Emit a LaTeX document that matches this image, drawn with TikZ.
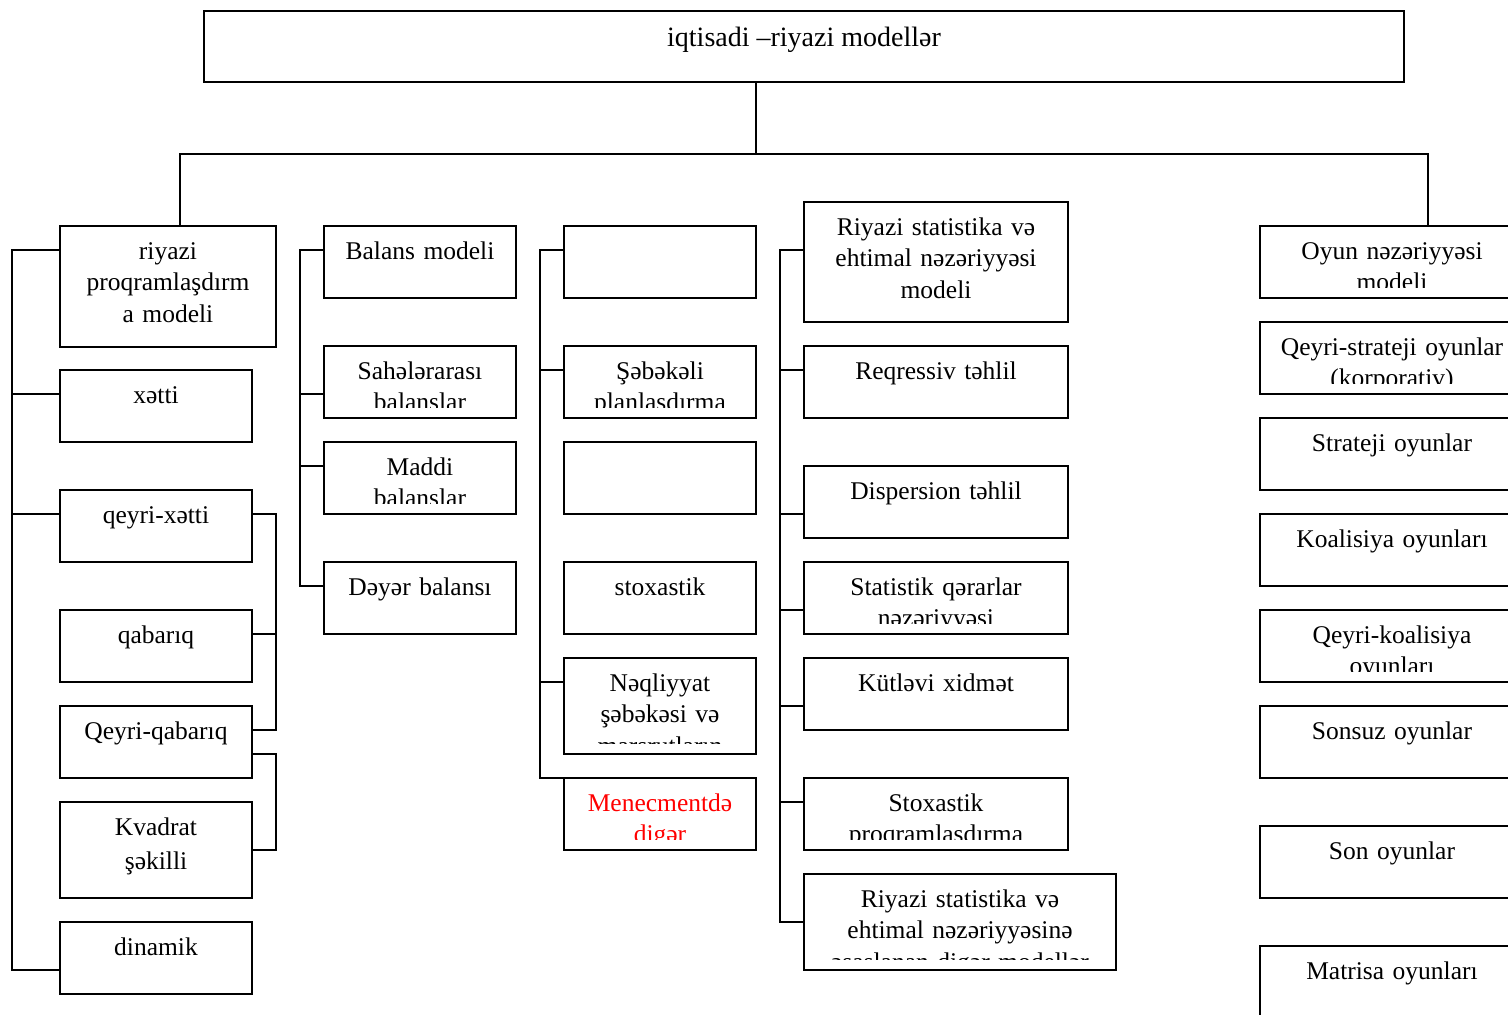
\documentclass[tikz,border=0pt]{standalone}
\usepackage{fontspec}
\setmainfont{Liberation Serif}
\usetikzlibrary{calc}
\tikzset{
  boxst/.style={draw, line width=1.8pt, inner sep=0pt, outer sep=0pt},
  txt/.style={font=\fontsize{25.5}{31.5}\selectfont, inner sep=0pt, align=center},
  conn/.style={line width=1.8pt},
  thinconn/.style={line width=1.3pt},
  redtxt/.style={text=red}
}
% #1 text style, #2 name, #3 x1, #4 y1, #5 x2, #6 y2, #7 text
\newcommand\bx[7][]{%
  \pgfmathsetmacro\bw{#5-#3}%
  \pgfmathsetmacro\bh{#6-#4}%
  \pgfmathsetmacro\cx{(#3+#5)/2}%
  \pgfmathsetmacro\by{#4+33}%
  \node[boxst, minimum width=\bw pt, minimum height=\bh pt, anchor=north west] (#2) at (#3,#4) {};
  \begin{scope}
    \clip (#3+2,#4+2) rectangle (#5-2,#6-10.5);
    \node[txt, text width=\bw pt, anchor=base, #1] (#2-t) at (\cx,\by) {#7};
  \end{scope}}
\begin{document}
\begin{tikzpicture}[x=1pt,y=-1pt]
\clip (0,0) rectangle (1508,1015);
\fill[white] (0,0) rectangle (1508,1015);

% top box
\node[boxst, minimum width=1200pt, minimum height=71pt, anchor=north west] (top) at (204,11) {};
\node[inner sep=0pt, anchor=base, font=\fontsize{28}{32}\selectfont] (top-t) at (804,46) {iqtisadi –riyazi modellər};

% column 1
\bx{riy}{60}{226}{276}{347}{riyazi\\proqramlaşdırm\\a modeli}
\bx{xet}{60}{370}{252}{442}{xətti}
\bx{qx}{60}{490}{252}{562}{qeyri-xətti}
\bx{qb}{60}{610}{252}{682}{qabarıq}
\bx{qq}{60}{706}{252}{778}{Qeyri-qabarıq}
\bx{kv}{60}{802}{252}{898}{Kvadrat\\[3pt]şəkilli}
\bx{din}{60}{922}{252}{994}{dinamik}

% column 2
\bx{bal}{324}{226}{516}{298}{Balans modeli}
\bx{sah}{324}{346}{516}{418}{Sahələrarası\\balanslar}
\bx{mad}{324}{442}{516}{514}{Maddi\\balanslar}
\bx{dey}{324}{562}{516}{634}{Dəyər balansı}

% column 3
\bx{ea}{564}{226}{756}{298}{}
\bx{seb}{564}{346}{756}{418}{Şəbəkəli\\planlaşdırma}
\bx{eb}{564}{442}{756}{514}{}
\bx{sto}{564}{562}{756}{634}{stoxastik}
\bx{nq}{564}{658}{756}{754}{Nəqliyyat\\şəbəkəsi və\\marşrutların}
\bx[redtxt]{men}{564}{778}{756}{850}{Menecmentdə\\digər}

% column 4
\bx{rs}{804}{202}{1068}{322}{Riyazi statistika və\\ehtimal nəzəriyyəsi\\modeli}
\bx{req}{804}{346}{1068}{418}{Reqressiv təhlil}
\bx{dis}{804}{466}{1068}{538}{Dispersion təhlil}
\bx{sq}{804}{562}{1068}{634}{Statistik qərarlar\\nəzəriyyəsi}
\bx{kx}{804}{658}{1068}{730}{Kütləvi xidmət}
\bx{sp}{804}{778}{1068}{850}{Stoxastik\\proqramlaşdırma}
\bx{rd}{804}{874}{1116}{970}{Riyazi statistika və\\ehtimal nəzəriyyəsinə\\əsaslanan digər modellər}

% column 5
\bx{oy}{1260}{226}{1524}{298}{Oyun nəzəriyyəsi\\modeli}
\bx{qs}{1260}{322}{1524}{394}{Qeyri-strateji oyunlar\\(korporativ)}
\bx{st}{1260}{418}{1524}{490}{Strateji oyunlar}
\bx{ko}{1260}{514}{1524}{586}{Koalisiya oyunları}
\bx{qk}{1260}{610}{1524}{682}{Qeyri-koalisiya\\oyunları}
\bx{so}{1260}{706}{1524}{778}{Sonsuz oyunlar}
\bx{son}{1260}{826}{1524}{898}{Son oyunlar}
\bx{mat}{1260}{946}{1524}{1030}{Matrisa oyunları}

% top connectors
\coordinate (bus) at (756,154);
\draw[thinconn] ($(top.south west)+(552,0)$) -- (bus);
\draw[conn] ($(riy.north west)+(120,0)$) |- (bus) -| ($(oy.north west)+(168,0)$);

% column 1 connectors
\draw[conn] ($(riy.north west)+(0,24)$) -- ++(-48,0) |- ($(din.north west)+(0,48)$);
\draw[conn] ($(xet.north west)+(0,24)$) -- ++(-48,0);
\draw[conn] ($(qx.north west)+(0,24)$) -- ++(-48,0);
\draw[conn] ($(qx.north east)+(0,24)$) -- ++(24,0) |- ($(qq.north east)+(0,24)$);
\draw[conn] ($(qb.north east)+(0,24)$) -- ++(24,0);
\draw[conn] ($(qq.north east)+(0,48)$) -- ++(24,0) |- ($(kv.north east)+(0,48)$);

% column 2 connectors
\draw[conn] ($(bal.north west)+(0,24)$) -- ++(-24,0) |- ($(dey.north west)+(0,24)$);
\draw[conn] ($(sah.north west)+(0,48)$) -- ++(-24,0);
\draw[conn] ($(mad.north west)+(0,24)$) -- ++(-24,0);

% column 3 connectors
\draw[conn] ($(ea.north west)+(0,24)$) -- ++(-24,0) |- (men.north west);
\draw[conn] ($(seb.north west)+(0,24)$) -- ++(-24,0);
\draw[conn] ($(nq.north west)+(0,24)$) -- ++(-24,0);

% column 4 connectors
\draw[conn] ($(rs.north west)+(0,48)$) -- ++(-24,0) |- ($(rd.north west)+(0,48)$);
\draw[conn] ($(req.north west)+(0,24)$) -- ++(-24,0);
\draw[conn] ($(dis.north west)+(0,48)$) -- ++(-24,0);
\draw[conn] ($(sq.north west)+(0,48)$) -- ++(-24,0);
\draw[conn] ($(kx.north west)+(0,48)$) -- ++(-24,0);
\draw[conn] ($(sp.north west)+(0,24)$) -- ++(-24,0);
\end{tikzpicture}
\end{document}
